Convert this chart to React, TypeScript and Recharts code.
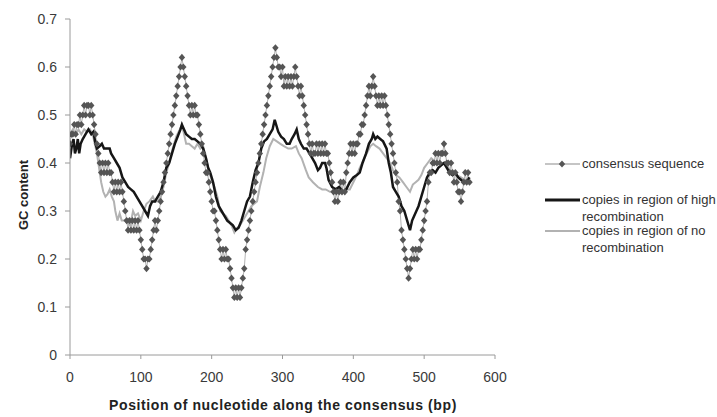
import React from 'react';
import { LineChart, Line, XAxis, YAxis, Label } from 'recharts';

// consensus sequence GC content, one value every 2 bp starting at 0
const consensusStep = 2;
const consensusValues = [
  0.44, 0.46, 0.46, 0.48, 0.46, 0.48, 0.48, 0.50, 0.48, 0.50,
  0.52, 0.50, 0.52, 0.52, 0.50, 0.52, 0.50, 0.48, 0.46, 0.44,
  0.42, 0.40, 0.38, 0.40, 0.38, 0.40, 0.38, 0.40, 0.38, 0.38,
  0.36, 0.34, 0.36, 0.34, 0.36, 0.34, 0.36, 0.34, 0.32, 0.30,
  0.28, 0.26, 0.28, 0.26, 0.28, 0.26, 0.28, 0.26, 0.28, 0.26,
  0.24, 0.22, 0.20, 0.20, 0.18, 0.20, 0.20, 0.22, 0.24, 0.26,
  0.28, 0.26, 0.28, 0.30, 0.32, 0.34, 0.36, 0.38, 0.40, 0.42,
  0.44, 0.46, 0.48, 0.50, 0.52, 0.54, 0.56, 0.58, 0.60, 0.62,
  0.60, 0.58, 0.56, 0.54, 0.52, 0.50, 0.52, 0.50, 0.52, 0.50,
  0.50, 0.48, 0.46, 0.44, 0.42, 0.40, 0.38, 0.38, 0.36, 0.34,
  0.32, 0.30, 0.30, 0.28, 0.26, 0.24, 0.22, 0.20, 0.22, 0.20,
  0.22, 0.20, 0.20, 0.18, 0.16, 0.14, 0.12, 0.14, 0.12, 0.14,
  0.12, 0.14, 0.16, 0.18, 0.22, 0.24, 0.26, 0.28, 0.30, 0.32,
  0.34, 0.36, 0.38, 0.40, 0.42, 0.44, 0.46, 0.48, 0.50, 0.52,
  0.54, 0.56, 0.58, 0.60, 0.62, 0.64, 0.62, 0.60, 0.60, 0.58,
  0.60, 0.56, 0.58, 0.56, 0.58, 0.56, 0.58, 0.56, 0.58, 0.60,
  0.58, 0.56, 0.54, 0.56, 0.54, 0.52, 0.50, 0.48, 0.46, 0.44,
  0.42, 0.44, 0.42, 0.42, 0.44, 0.42, 0.44, 0.42, 0.44, 0.42,
  0.44, 0.42, 0.42, 0.40, 0.38, 0.36, 0.34, 0.32, 0.34, 0.32,
  0.34, 0.36, 0.34, 0.36, 0.34, 0.38, 0.40, 0.42, 0.44, 0.42,
  0.44, 0.42, 0.44, 0.44, 0.46, 0.46, 0.48, 0.48, 0.50, 0.52,
  0.54, 0.56, 0.54, 0.56, 0.58, 0.56, 0.54, 0.52, 0.54, 0.52,
  0.54, 0.52, 0.54, 0.52, 0.50, 0.48, 0.46, 0.44, 0.42, 0.40,
  0.38, 0.36, 0.32, 0.30, 0.26, 0.24, 0.22, 0.20, 0.18, 0.16,
  0.18, 0.20, 0.22, 0.20, 0.22, 0.20, 0.22, 0.22, 0.24, 0.26,
  0.28, 0.30, 0.32, 0.36, 0.38, 0.38, 0.40, 0.40, 0.42, 0.40,
  0.42, 0.40, 0.42, 0.42, 0.44, 0.42, 0.40, 0.40, 0.38, 0.40,
  0.38, 0.36, 0.38, 0.36, 0.34, 0.34, 0.32, 0.34, 0.36, 0.38,
  0.36, 0.38, 0.36,
];

// copies in region of high recombination
const highPositions = [
  0, 3, 5, 7, 9, 11, 13, 15, 18, 22, 26, 30, 33, 36, 38, 42, 45, 48, 52, 56,
  58, 62, 66, 70, 74, 78, 82, 86, 90, 94, 98, 102, 106, 110, 113, 116, 120, 124, 128, 132,
  136, 140, 144, 148, 152, 156, 158, 161, 164, 168, 172, 176, 180, 184, 188, 192, 195, 198, 202, 206,
  210, 214, 218, 222, 226, 230, 234, 238, 242, 246, 250, 254, 258, 262, 266, 270, 274, 278, 282, 286,
  289, 292, 294, 298, 302, 306, 310, 313, 317, 320, 323, 326, 330, 334, 338, 342, 346, 350, 353, 356,
  360, 362, 365, 370, 375, 380, 385, 390, 395, 400, 405, 409, 413, 418, 422, 426, 428, 431, 434, 438,
  442, 447, 450, 453, 456, 460, 464, 468, 472, 476, 480, 483, 486, 489, 492, 496, 500, 504, 508, 512,
  516, 520, 524, 528, 532, 536, 540, 544, 548, 552, 556, 560, 564,
];
const highValues = [
  0.41, 0.44, 0.45, 0.42, 0.43, 0.45, 0.42, 0.44, 0.45, 0.46, 0.47, 0.46, 0.465, 0.44, 0.43, 0.435, 0.44, 0.43, 0.43, 0.43,
  0.42, 0.41, 0.40, 0.39, 0.37, 0.36, 0.35, 0.345, 0.34, 0.33, 0.32, 0.31, 0.30, 0.29, 0.31, 0.32, 0.32, 0.33, 0.34, 0.36,
  0.39, 0.40, 0.42, 0.44, 0.455, 0.47, 0.48, 0.47, 0.46, 0.455, 0.45, 0.45, 0.445, 0.44, 0.43, 0.41, 0.39, 0.38, 0.36, 0.33,
  0.31, 0.30, 0.29, 0.28, 0.275, 0.27, 0.26, 0.265, 0.28, 0.30, 0.32, 0.33, 0.36, 0.385, 0.40, 0.43, 0.445, 0.45, 0.46, 0.47,
  0.49, 0.475, 0.465, 0.455, 0.45, 0.44, 0.44, 0.45, 0.46, 0.47, 0.45, 0.44, 0.43, 0.43, 0.42, 0.41, 0.40, 0.385, 0.39, 0.40,
  0.40, 0.39, 0.365, 0.35, 0.345, 0.35, 0.34, 0.345, 0.36, 0.37, 0.375, 0.38, 0.40, 0.42, 0.44, 0.45, 0.46, 0.45, 0.455, 0.45,
  0.445, 0.43, 0.40, 0.38, 0.35, 0.34, 0.33, 0.31, 0.30, 0.28, 0.26, 0.28, 0.29, 0.30, 0.31, 0.33, 0.35, 0.37, 0.38, 0.385,
  0.38, 0.39, 0.395, 0.40, 0.39, 0.38, 0.375, 0.38, 0.37, 0.365, 0.36, 0.36, 0.37,
];

// copies in region of no recombination
const nonePositions = [
  0, 4, 8, 12, 16, 20, 24, 28, 32, 35, 38, 41, 44, 47, 50, 53, 56, 59, 62, 64,
  67, 70, 73, 77, 81, 85, 89, 92, 96, 100, 104, 108, 112, 117, 120, 124, 128, 132, 136, 140,
  145, 150, 155, 158, 161, 164, 168, 172, 176, 180, 184, 188, 192, 196, 200, 204, 208, 212, 216, 220,
  224, 228, 232, 236, 240, 244, 248, 252, 256, 260, 264, 268, 273, 277, 282, 287, 292, 297, 302, 308,
  313, 319, 323, 327, 333, 337, 343, 350, 356, 361, 367, 375, 385, 390, 395, 400, 405, 409, 414, 419,
  424, 428, 432, 437, 442, 447, 452, 456, 460, 465, 470, 475, 480, 484, 488, 492, 496, 500, 505, 510,
  514, 518, 522, 528, 534, 540, 546, 552, 558, 564,
];
const noneValues = [
  0.46, 0.47, 0.46, 0.47, 0.46, 0.47, 0.465, 0.47, 0.46, 0.44, 0.42, 0.39, 0.36, 0.34, 0.33, 0.335, 0.345, 0.33, 0.32, 0.30,
  0.28, 0.295, 0.28, 0.28, 0.275, 0.27, 0.30, 0.29, 0.295, 0.28, 0.30, 0.315, 0.32, 0.33, 0.32, 0.32, 0.33, 0.35, 0.38, 0.40,
  0.43, 0.455, 0.47, 0.48, 0.46, 0.44, 0.44, 0.435, 0.43, 0.44, 0.43, 0.435, 0.41, 0.385, 0.365, 0.35, 0.33, 0.30, 0.295, 0.29,
  0.28, 0.27, 0.255, 0.265, 0.27, 0.28, 0.29, 0.30, 0.31, 0.315, 0.32, 0.35, 0.38, 0.41, 0.435, 0.45, 0.445, 0.44, 0.435, 0.43,
  0.43, 0.435, 0.42, 0.41, 0.385, 0.37, 0.36, 0.35, 0.345, 0.345, 0.34, 0.34, 0.34, 0.345, 0.345, 0.36, 0.375, 0.39, 0.405, 0.42,
  0.435, 0.44, 0.435, 0.43, 0.42, 0.41, 0.40, 0.385, 0.375, 0.37, 0.36, 0.35, 0.34, 0.355, 0.36, 0.365, 0.375, 0.39, 0.40, 0.41,
  0.405, 0.40, 0.40, 0.40, 0.39, 0.38, 0.375, 0.37, 0.365, 0.36,
];

const xTicks = [0, 100, 200, 300, 400, 500, 600];
const yTicks = [0, 0.1, 0.2, 0.3, 0.4, 0.5, 0.6, 0.7];
const seriesNames = [
  'consensus sequence',
  'copies in region of high recombination',
  'copies in region of no recombination',
];
const xTitle = 'Position of nucleotide along the consensus (bp)';
const yTitle = 'GC content';

const consensusData = consensusValues.map((v, i) => ({ x: i * consensusStep, y: v }));
const highData = highPositions.map((x, i) => ({ x, y: highValues[i] }));
const noneData = nonePositions.map((x, i) => ({ x, y: noneValues[i] }));

const FONT = '"Liberation Sans", Arial, sans-serif';
const DOT = '#555555';
const LIGHT = '#b2b2b2';
const DARK = '#161616';

const diamondPath = (cx: number, cy: number) =>
  `M${cx},${cy - 3.6}L${cx + 3.2},${cy}L${cx},${cy + 3.6}L${cx - 3.2},${cy}Z`;

const renderDiamond = (props: any) => {
  const { cx, cy, index } = props;
  if (cx == null || cy == null) return <g key={`d-${index}`} />;
  return <path key={`d-${index}`} d={diamondPath(cx, cy)} fill={DOT} />;
};

const LegendOverlay = () => (
  <svg
    width={717}
    height={417}
    style={{ position: 'absolute', left: 0, top: 0, pointerEvents: 'none' }}
  >
    <g fontFamily={FONT} fontSize={13} fill="#333">
      <line x1={545} x2={580} y1={164} y2={164} stroke={LIGHT} strokeWidth={1.5} />
      <path d={diamondPath(562, 164)} fill={DOT} />
      <text x={582} y={163} dominantBaseline="central">{seriesNames[0]}</text>

      <line x1={545} x2={580} y1={200} y2={200} stroke={DARK} strokeWidth={3} />
      <text x={582} y={199} dominantBaseline="central">copies in region of high</text>
      <text x={582} y={216} dominantBaseline="central">recombination</text>

      <line x1={545} x2={580} y1={231} y2={231} stroke={LIGHT} strokeWidth={2} />
      <text x={582} y={230} dominantBaseline="central">copies in region of no</text>
      <text x={582} y={247} dominantBaseline="central">recombination</text>
    </g>
  </svg>
);

export default function App() {
  return (
    <div style={{ position: 'absolute', left: 0, top: 0, width: 717, height: 417, background: '#fff' }}>
      <LineChart
        width={717}
        height={417}
        margin={{ top: 19, right: 222, bottom: 22, left: 0 }}
      >
        <XAxis
          type="number"
          dataKey="x"
          domain={[0, 600]}
          ticks={xTicks}
          height={40}
          tickSize={4}
          tickMargin={13}
          axisLine={{ stroke: '#9a9a9a' }}
          tickLine={{ stroke: '#9a9a9a' }}
          tick={{ fill: '#3a3a3a', fontSize: 14, fontFamily: FONT }}
          allowDataOverflow
        >
          <Label
            content={() => (
              <text
                x={283}
                y={410}
                textAnchor="middle"
                fontFamily={FONT}
                fontWeight="bold"
                fontSize={14}
                letterSpacing={0.6}
                fill="#222"
              >
                {xTitle}
              </text>
            )}
          />
        </XAxis>
        <YAxis
          type="number"
          dataKey="y"
          domain={[0, 0.7]}
          ticks={yTicks}
          width={70}
          tickSize={5}
          tickMargin={8}
          axisLine={{ stroke: '#9a9a9a' }}
          tickLine={{ stroke: '#9a9a9a' }}
          tick={{ fill: '#3a3a3a', fontSize: 14, fontFamily: FONT }}
        >
          <Label
            content={() => (
              <text
                transform="translate(28,195) rotate(-90)"
                textAnchor="middle"
                fontFamily={FONT}
                fontWeight="bold"
                fontSize={13}
                fill="#222"
              >
                {yTitle}
              </text>
            )}
          />
        </YAxis>
        <Line
          data={consensusData}
          dataKey="y"
          name={seriesNames[0]}
          stroke={LIGHT}
          strokeWidth={1}
          dot={renderDiamond}
          activeDot={false}
          isAnimationActive={false}
          type="linear"
        />
        <Line
          data={noneData}
          dataKey="y"
          name={seriesNames[2]}
          stroke={LIGHT}
          strokeWidth={2}
          dot={false}
          activeDot={false}
          isAnimationActive={false}
          type="linear"
        />
        <Line
          data={highData}
          dataKey="y"
          name={seriesNames[1]}
          stroke={DARK}
          strokeWidth={2.5}
          dot={false}
          activeDot={false}
          isAnimationActive={false}
          type="linear"
        />
      </LineChart>
      <LegendOverlay />
    </div>
  );
}
